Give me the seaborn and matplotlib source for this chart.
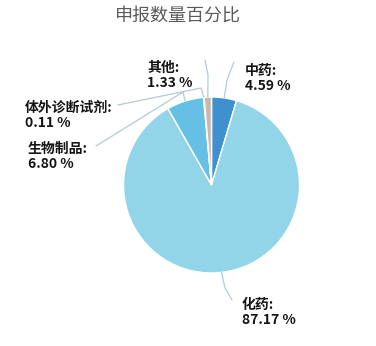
import numpy as np
import matplotlib
matplotlib.use("Agg")
import matplotlib.pyplot as plt
import seaborn as sns

categories = ["中药", "化药", "生物制品", "体外诊断试剂", "其他"]
values = [4.59, 87.17, 6.80, 0.11, 1.33]
colors = ["#3F90CD", "#92D4E8", "#66C0E6", "#9FB4C4", "#C9B6AF"]
title = "申报数量百分比"

sns.set_theme(style="white")
plt.rcParams['font.family'] = ['Noto Sans CJK SC', 'DejaVu Sans']

W, H = 376, 346
fig = plt.figure(figsize=(W / 100, H / 100), dpi=100)
ax = fig.add_axes([0, 0, 1, 1])

cx, cy, r = 211.5, 185, 88
wedges, _ = ax.pie(values, colors=colors, startangle=-90, counterclock=True,
                   center=(cx, cy), radius=r, frame=True,
                   wedgeprops=dict(edgecolor="white", linewidth=1.0))
ax.set_xlim(0, W)
ax.set_ylim(H, 0)
ax.set_aspect('equal')
ax.axis('off')

label_pos = {
    "中药": (245, 64),
    "化药": (242, 298),
    "生物制品": (28, 142),
    "体外诊断试剂": (25, 101),
    "其他": (147, 61),
}
line_ends = {
    "中药": [(227, 80), (234, 62)],
    "化药": [(225, 288), (232, 300)],
    "生物制品": [(183, 92), (96, 146)],
    "体外诊断试剂": [(201, 88), (118, 105)],
    "其他": [(208, 75), (205, 60)],
}
line_color = "#B5C9D6"

cum = 0.0
total = sum(values)
for cat, v in zip(categories, values):
    mid = (cum + v / 2) / total
    cum += v
    ang = np.deg2rad(90 - 360 * mid)
    ex = cx + r * np.cos(ang)
    ey = cy - r * np.sin(ang)
    pts = [(ex, ey)] + line_ends[cat]
    xs, ys = zip(*pts)
    ax.plot(xs, ys, color=line_color, lw=0.9, solid_capstyle='round')
    lx, ly = label_pos[cat]
    ax.text(lx, ly, f"{cat}:\n{v:.2f} %", ha='left', va='top',
            fontsize=10, fontweight='bold', color="#151515", linespacing=1.05)

ax.text(178, 17, title, ha='center', va='center', fontsize=13, color="#5a5a5a")

fig.savefig("out.png", dpi=100, facecolor="white")
